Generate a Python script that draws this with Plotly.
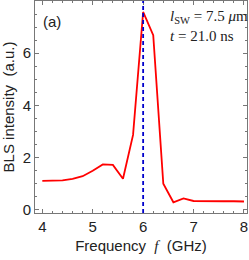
import plotly.graph_objects as go

freq = [4.0, 4.2, 4.4, 4.6, 4.8, 5.0, 5.2, 5.4, 5.6, 5.8, 6.0, 6.2, 6.4, 6.6, 6.8, 7.0, 7.2, 7.4, 7.6, 7.8, 8.0]
intensity = [1.11, 1.11, 1.13, 1.19, 1.29, 1.5, 1.74, 1.72, 1.19, 2.87, 7.58, 6.69, 1.0, 0.29, 0.44, 0.34, 0.33, 0.33, 0.33, 0.33, 0.32]
x_ticks = [4, 5, 6, 7, 8]
y_ticks = [0, 2, 4, 6]
marker_freq = 6.0

fig = go.Figure()
fig.add_trace(go.Scatter(x=freq, y=intensity, mode="lines",
                         line=dict(color="#ff0000", width=1.8), showlegend=False))
fig.add_shape(type="line", x0=marker_freq, x1=marker_freq, y0=0, y1=1, yref="paper",
              line=dict(color="#0000cc", width=1.8, dash="4px,3px"))

axis_common = dict(showline=True, linecolor="#777777", linewidth=1, mirror="ticks",
                   ticks="inside", ticklen=4, tickcolor="#777777", showgrid=False, zeroline=False,
                   tickfont=dict(family="Liberation Sans, Arial", size=15, color="#222222"))
fig.update_xaxes(range=[3.855, 8.06], tickvals=x_ticks, **axis_common,
                 minor=dict(dtick=0.2, ticks="inside", ticklen=2, tickcolor="#777777"),
                 title=dict(text="Frequency  <span style='font-family:Liberation Serif'><i>f</i></span>  (GHz)",
                            font=dict(family="Liberation Sans, Arial", size=15, color="#222222"), standoff=6))
fig.update_yaxes(range=[-0.12, 8.0], tickvals=y_ticks, **axis_common,
                 minor=dict(dtick=0.5, ticks="inside", ticklen=2, tickcolor="#777777"),
                 title=dict(text="BLS intensity  (a.u.)",
                            font=dict(family="Liberation Sans, Arial", size=15, color="#222222"), standoff=4))

fig.add_annotation(x=0.03, y=0.905, xref="paper", yref="paper", xanchor="left", yanchor="middle",
                   text="(a)", showarrow=False, font=dict(family="Liberation Sans, Arial", size=15, color="#222222"))
fig.add_annotation(x=0.625, y=0.925, xref="paper", yref="paper", xanchor="left", yanchor="middle",
                   text="<i>l</i><sub>SW</sub> = 7.5 <i>μ</i>m", showarrow=False,
                   font=dict(family="Liberation Serif, Times New Roman", size=15, color="#222222"))
fig.add_annotation(x=0.625, y=0.835, xref="paper", yref="paper", xanchor="left", yanchor="middle",
                   text="<i>t</i> = 21.0 ns", showarrow=False,
                   font=dict(family="Liberation Serif, Times New Roman", size=15, color="#222222"))

fig.update_layout(width=249, height=260, margin=dict(l=35, r=2, t=1, b=47),
                  paper_bgcolor="white", plot_bgcolor="white", hovermode=False)
fig.write_html("out.html", config={"displayModeBar": False, "staticPlot": True},
               post_script="document.body.style.margin='0';document.body.style.overflow='hidden';")
